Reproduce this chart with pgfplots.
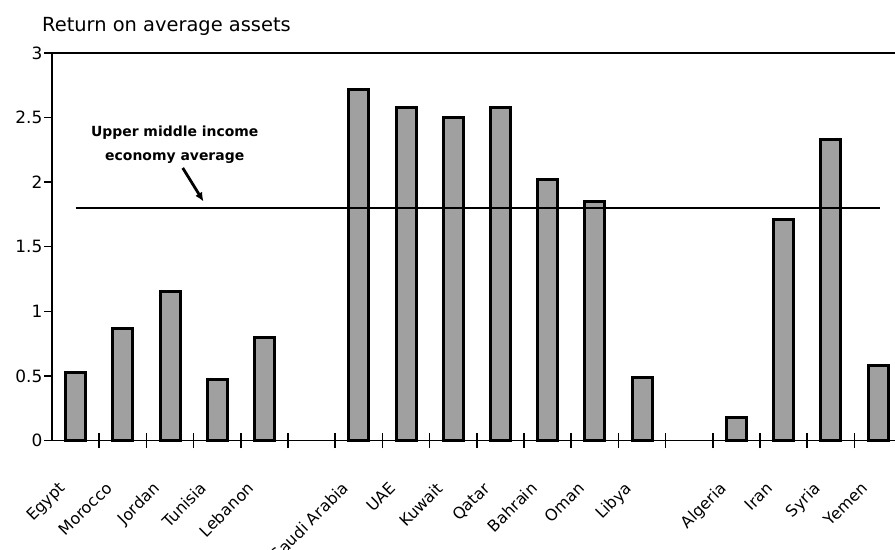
\documentclass[border=0pt]{standalone}
\usepackage{fontspec}
\setmainfont{DejaVu Sans}
\usepackage{pgfplots}
\pgfplotsset{compat=1.18}
\usetikzlibrary{arrows.meta}
\definecolor{barfill}{HTML}{A0A0A0}
\begin{document}
\begin{tikzpicture}
\begin{axis}[
  at={(52bp,109.5bp)}, anchor=south west,
  scale only axis, width=843bp, height=387.5bp,
  xmin=-0.5, xmax=17.36, ymin=0, ymax=3,
  axis x line*=bottom, axis y line*=left,
  axis line style={line width=1.8bp, black},
  ytick={0,0.5,1,1.5,2,2.5,3},
  ytick align=outside,
  major tick length=8bp,
  every major y tick/.append style={line width=1.5bp, black},
  yticklabel style={font=\fontsize{17}{17}\selectfont, inner sep=1.5bp},
  /pgf/number format/assume math mode=true,
  xtick={-0.38,0.62,1.62,2.62,3.62,5.62,6.62,7.62,8.62,9.62,10.62,11.62,13.62,14.62,15.62,16.62},
  xticklabels={Egypt,Morocco,Jordan,Tunisia,Lebanon,Saudi Arabia,UAE,Kuwait,Qatar,Bahrain,Oman,Libya,Algeria,Iran,Syria,Yemen},
  every major x tick/.append style={draw=none},
  minor xtick={0.5,1.5,2.5,3.5,4.5,5.5,6.5,7.5,8.5,9.5,10.5,11.5,12.5,13.5,14.5,15.5,16.5},
  xtick align=center,
  minor tick length=15bp,
  every minor x tick/.append style={draw=black, line width=1.5bp},
  xticklabel style={rotate=45, anchor=north east, inner sep=1bp, font=\fontsize{16}{16}\selectfont},
  xticklabel shift=35bp,
  clip=false,
]
\addplot[ybar, bar width=20bp, fill=barfill, draw=black, line width=3bp] coordinates {
  (0,0.53) (1,0.87) (2,1.15) (3,0.47) (4,0.80)
  (6,2.72) (7,2.58) (8,2.50) (9,2.58) (10,2.02) (11,1.85) (12,0.49)
  (14,0.18) (15,1.71) (16,2.33) (17,0.58)
};
\addplot[black, line width=1.4bp, mark=none] coordinates {(0,1.8) (17.05,1.8)};
\draw[black, line width=1.5bp] (axis cs:-0.5,3) -- (axis cs:17.36,3);
\node[align=center, font=\bfseries\fontsize{14}{24}\selectfont] at (axis cs:2.1,2.29) {Upper middle income\\economy average};
\draw[line width=2.8bp, -{Latex[length=9bp,width=8bp]}] (axis cs:2.27,2.11) -- (axis cs:2.71,1.85);
\end{axis}
\node[anchor=base west, font=\fontsize{19.5}{21}\selectfont, inner sep=0pt] at (42bp,518bp) {Return on average assets};
\pgfresetboundingbox
\useasboundingbox (0,0) rectangle (895bp,550bp);
\end{tikzpicture}
\end{document}
